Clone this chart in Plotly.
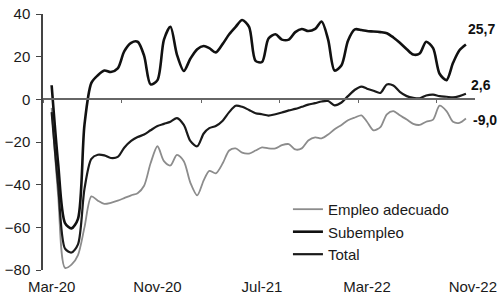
import plotly.graph_objects as go

# half-monthly observation dates (1st and 16th of each month), Mar-2020 .. Oct-2022
months = [(2020, m) for m in range(3, 13)] + [(2021, m) for m in range(1, 13)] + [(2022, m) for m in range(1, 11)]
dates = []
for (yy, mm) in months:
    dates.append(f"{yy}-{mm:02d}-01")
    dates.append(f"{yy}-{mm:02d}-16")

subempleo = [6.6, -30, -58, -60.5, -56, -12, 7.7, 11.3, 13.5, 12.8,
             14.5, 22.5, 26.5, 27, 20.5, 7, 9, 28, 34, 21,
             13.3, 19, 23.5, 25, 24, 22, 26, 30.5, 34, 37.2,
             34, 18, 17.5, 28.5, 30.5, 28, 28, 31.5, 33, 32,
             33, 36.5, 28, 13.5, 16, 27.5, 32.8, 32.5, 32, 31.8,
             31.5, 31, 29, 26.5, 23.5, 21, 21.5, 27, 24, 12,
             9, 17, 23, 25.7]

total = [-6, -40, -70, -71.8, -68, -42, -27.9, -26, -26.3, -27.5,
         -27, -22.7, -19.5, -17.7, -16.5, -14.5, -12.5, -11.5, -10.5, -8.8,
         -12, -19.5, -22, -16, -13.5, -12.5, -10, -6, -3, -3.5,
         -5, -6.5, -7, -7.6, -7, -6.2, -5.2, -4.5, -3.5, -2.5,
         -1.8, -1, -0.8, -2.8, -1.5, 1.5, 4.5, 6, 5, 4,
         3, 7, 6.5, 3.5, 1.5, 0.7, 0.5, 1.8, 2.2, 1.5,
         1.2, 0.9, 1.5, 2.6]

adecuado = [-4, -45, -79, -77.5, -73, -60, -45.5, -47.5, -49, -48.5,
            -47.5, -46.3, -45, -44, -40.5, -30, -22, -29, -31, -26,
            -29, -39, -45, -38, -33.5, -34.7, -30, -24, -23, -25,
            -25.4, -24, -22.5, -23, -23, -21.5, -21, -23.5, -23, -19.3,
            -17.8, -18.3, -16.5, -14, -12, -9.8, -8.5, -7.5, -10.5, -14.5,
            -13, -7, -5.5, -7.5, -9.5, -11.5, -12, -10.5, -9.5, -3,
            -5.5, -10.5, -11, -9]

tick_dates = ["2020-03-01", "2020-11-01", "2021-07-01", "2022-03-01", "2022-11-01"]
tick_text = ["Mar-20", "Nov-20", "Jul-21", "Mar-22", "Nov-22"]
end_labels = ["25,7", "2,6", "-9,0"]

x_range = ["2020-02-10", "2022-11-06"]
font_family = "Liberation Sans, Arial, sans-serif"

fig = go.Figure()
fig.add_trace(go.Scatter(x=dates, y=adecuado, name="Empleo adecuado", mode="lines",
                         line=dict(color="#8c8c8c", width=1.8, shape="spline", smoothing=0.8)))
fig.add_trace(go.Scatter(x=dates, y=subempleo, name="Subempleo", mode="lines",
                         line=dict(color="#111111", width=2.6, shape="spline", smoothing=0.8)))
fig.add_trace(go.Scatter(x=dates, y=total, name="Total", mode="lines",
                         line=dict(color="#1a1a1a", width=2.2, shape="spline", smoothing=0.8)))

series_last = [subempleo[-1], total[-1], adecuado[-1]]
shifts = [16, 9, -1]
label_x = [1.051, 1.042, 1.056]
for txt, yv, sh, lx in zip(end_labels, series_last, shifts, label_x):
    fig.add_annotation(x=lx, xref="paper", y=yv, yref="y", text=f"<b>{txt}</b>",
                       showarrow=False, xanchor="right", yshift=sh,
                       font=dict(family=font_family, size=14, color="#111"))

fig.update_layout(
    width=499, height=298,
    margin=dict(l=43, r=24, t=14, b=28, autoexpand=False),
    paper_bgcolor="white", plot_bgcolor="white",
    font=dict(family=font_family, size=15, color="#1a1a1a"),
    showlegend=True,
    legend=dict(x=0.567, y=0.301, xanchor="left", yanchor="top",
                bgcolor="rgba(0,0,0,0)", font=dict(size=15), itemwidth=30,
                tracegroupgap=0),
    xaxis=dict(type="date", range=x_range, tickvals=tick_dates, ticktext=tick_text,
               showgrid=False, zeroline=False, showline=False, ticks="",
               tickfont=dict(size=15), ticklabelstandoff=6, ticklabeloverflow="allow",
               automargin=False),
    xaxis2=dict(type="date", range=x_range, overlaying="x", anchor="free", position=80/120,
                showgrid=False, zeroline=False, showline=True, linecolor="#666", linewidth=1.5,
                ticks="outside", ticklen=3, tickcolor="#666", tick0="2020-08-10", dtick="M6",
                showticklabels=False, automargin=False),
    yaxis=dict(range=[-80, 40], dtick=20, showgrid=False, zeroline=False,
               showline=True, linecolor="#444", linewidth=1.5, ticks="outside", ticklen=5,
               tickcolor="#444", tickfont=dict(size=15), ticklabelstandoff=3,
               ticklabeloverflow="allow", automargin=False),
)
# invisible helper trace so the zero-crossing axis is drawn
fig.add_trace(go.Scatter(x=x_range, y=[0, 0], xaxis="x2", mode="lines", line=dict(width=0),
                         hoverinfo="skip", showlegend=False))

fig.write_html("out.html", config={"displayModeBar": False},
               post_script="document.body.style.margin='0';document.body.style.overflow='hidden';")
